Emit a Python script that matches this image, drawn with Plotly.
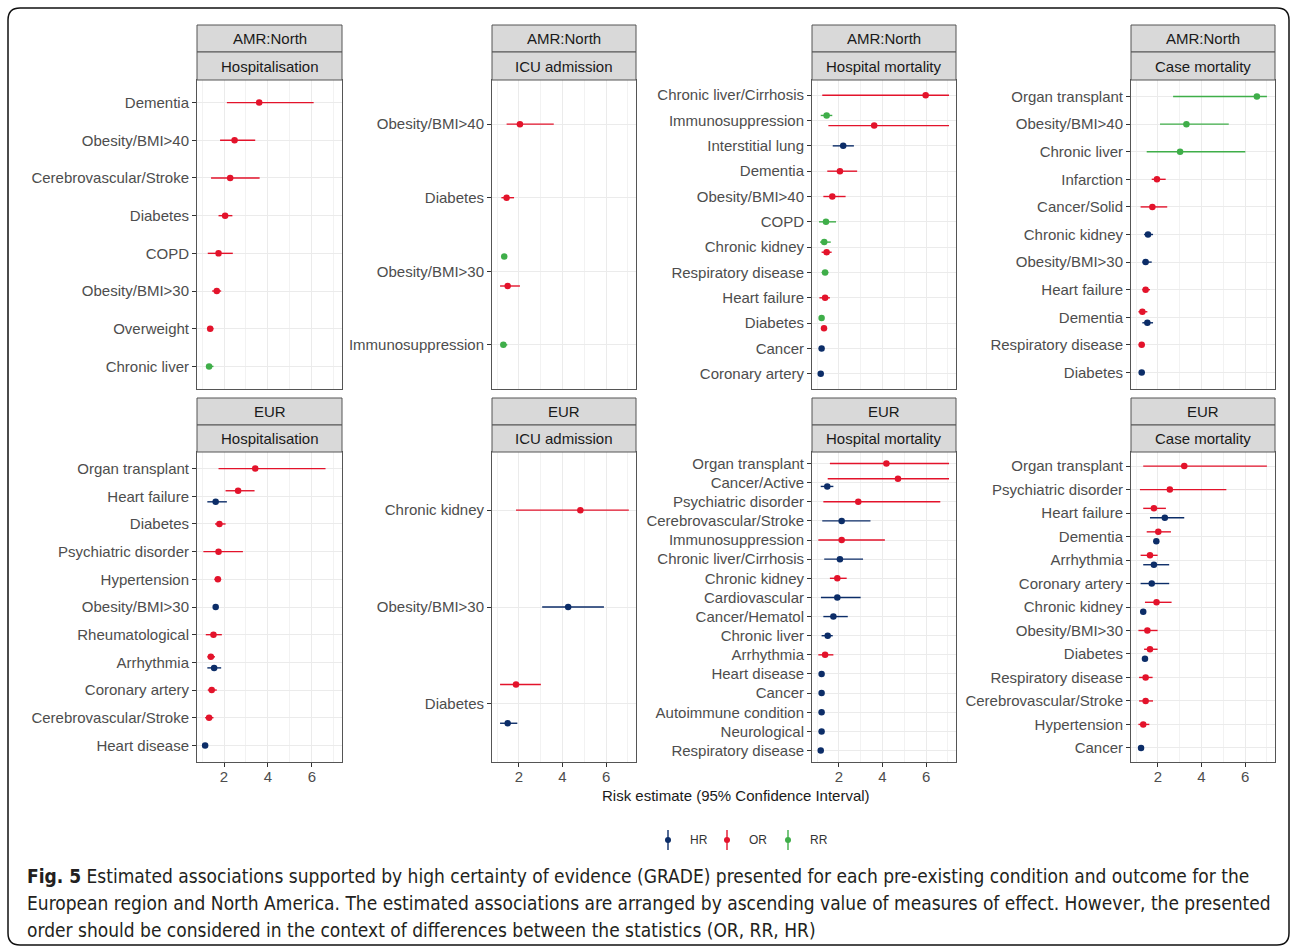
import plotly.graph_objects as go

W, H = 1290, 947

# Each row: (condition, measure, estimate, lower 95% CI, upper 95% CI); listed top to bottom
amr_hospitalisation = [
    ("Dementia", "OR", 3.60, 2.13, 6.08),
    ("Obesity/BMI>40", "OR", 2.48, 1.82, 3.42),
    ("Cerebrovascular/Stroke", "OR", 2.28, 1.41, 3.62),
    ("Diabetes", "OR", 2.05, 1.75, 2.38),
    ("COPD", "OR", 1.75, 1.26, 2.40),
    ("Obesity/BMI>30", "OR", 1.67, 1.46, 1.87),
    ("Overweight", "OR", 1.37, 1.24, 1.52),
    ("Chronic liver", "RR", 1.32, 1.21, 1.52),
]
amr_icu = [
    ("Obesity/BMI>40", "OR", 2.05, 1.44, 3.60),
    ("Diabetes", "OR", 1.44, 1.20, 1.78),
    ("Obesity/BMI>30", "RR", 1.33, 1.22, 1.44),
    ("Obesity/BMI>30", "OR", 1.49, 1.14, 2.05),
    ("Immunosuppression", "RR", 1.29, 1.17, 1.47),
]
amr_hosp_mortality = [
    ("Chronic liver/Cirrhosis", "OR", 5.98, 1.24, 7.05),
    ("Immunosuppression", "RR", 1.44, 1.17, 1.70),
    ("Immunosuppression", "OR", 3.62, 1.52, 7.05),
    ("Interstitial lung", "HR", 2.20, 1.72, 2.69),
    ("Dementia", "OR", 2.05, 1.47, 2.84),
    ("Obesity/BMI>40", "OR", 1.70, 1.29, 2.31),
    ("COPD", "RR", 1.41, 1.09, 1.87),
    ("Chronic kidney", "RR", 1.33, 1.14, 1.63),
    ("Chronic kidney", "OR", 1.44, 1.21, 1.67),
    ("Respiratory disease", "RR", 1.37, 1.21, 1.52),
    ("Heart failure", "OR", 1.37, 1.11, 1.59),
    ("Diabetes", "RR", 1.21, 1.11, 1.32),
    ("Diabetes", "OR", 1.32, 1.21, 1.44),
    ("Cancer", "HR", 1.21, 1.12, 1.30),
    ("Coronary artery", "HR", 1.17, 1.10, 1.24),
]
amr_case_mortality = [
    ("Organ transplant", "RR", 6.54, 2.70, 7.00),
    ("Obesity/BMI>40", "RR", 3.31, 2.10, 5.25),
    ("Chronic liver", "RR", 3.02, 1.49, 6.01),
    ("Infarction", "OR", 1.96, 1.72, 2.36),
    ("Cancer/Solid", "OR", 1.75, 1.21, 2.43),
    ("Chronic kidney", "HR", 1.55, 1.37, 1.78),
    ("Obesity/BMI>30", "HR", 1.44, 1.29, 1.72),
    ("Heart failure", "OR", 1.44, 1.29, 1.64),
    ("Dementia", "OR", 1.29, 1.11, 1.52),
    ("Dementia", "HR", 1.52, 1.29, 1.78),
    ("Respiratory disease", "OR", 1.26, 1.12, 1.40),
    ("Diabetes", "HR", 1.26, 1.14, 1.40),
]
eur_hospitalisation = [
    ("Organ transplant", "OR", 3.42, 1.75, 6.62),
    ("Heart failure", "OR", 2.64, 2.07, 3.39),
    ("Heart failure", "HR", 1.62, 1.24, 2.13),
    ("Diabetes", "OR", 1.79, 1.59, 2.07),
    ("Psychiatric disorder", "OR", 1.75, 1.06, 2.86),
    ("Hypertension", "OR", 1.72, 1.56, 1.87),
    ("Obesity/BMI>30", "HR", 1.62, 1.52, 1.72),
    ("Rheumatological", "OR", 1.52, 1.17, 1.90),
    ("Arrhythmia", "OR", 1.40, 1.24, 1.59),
    ("Arrhythmia", "HR", 1.55, 1.24, 1.87),
    ("Coronary artery", "OR", 1.44, 1.26, 1.67),
    ("Cerebrovascular/Stroke", "OR", 1.32, 1.14, 1.52),
    ("Heart disease", "HR", 1.14, 1.08, 1.20),
]
eur_icu = [
    ("Chronic kidney", "OR", 4.82, 1.87, 7.04),
    ("Obesity/BMI>30", "HR", 4.26, 3.07, 5.90),
    ("Diabetes", "OR", 1.87, 1.14, 3.01),
    ("Diabetes", "HR", 1.49, 1.14, 1.93),
]
eur_hosp_mortality = [
    ("Organ transplant", "OR", 4.18, 1.59, 7.05),
    ("Cancer/Active", "OR", 4.71, 1.49, 7.05),
    ("Cancer/Active", "HR", 1.47, 1.17, 1.75),
    ("Psychiatric disorder", "OR", 2.89, 1.29, 6.65),
    ("Cerebrovascular/Stroke", "HR", 2.13, 1.24, 3.45),
    ("Immunosuppression", "OR", 2.13, 1.06, 4.11),
    ("Chronic liver/Cirrhosis", "HR", 2.05, 1.33, 3.11),
    ("Chronic kidney", "OR", 1.93, 1.59, 2.36),
    ("Cardiovascular", "HR", 1.93, 1.18, 3.00),
    ("Cancer/Hematol", "HR", 1.75, 1.29, 2.41),
    ("Chronic liver", "HR", 1.49, 1.21, 1.72),
    ("Arrhythmia", "OR", 1.37, 1.06, 1.75),
    ("Heart disease", "HR", 1.21, 1.15, 1.27),
    ("Cancer", "HR", 1.21, 1.15, 1.27),
    ("Autoimmune condition", "HR", 1.21, 1.15, 1.27),
    ("Neurological", "HR", 1.21, 1.15, 1.27),
    ("Respiratory disease", "HR", 1.17, 1.12, 1.23),
]
eur_case_mortality = [
    ("Organ transplant", "OR", 3.21, 1.33, 7.00),
    ("Psychiatric disorder", "OR", 2.55, 1.18, 5.14),
    ("Heart failure", "OR", 1.82, 1.33, 2.37),
    ("Heart failure", "HR", 2.32, 1.64, 3.21),
    ("Dementia", "OR", 2.02, 1.49, 2.60),
    ("Dementia", "HR", 1.93, 1.85, 2.01),
    ("Arrhythmia", "OR", 1.64, 1.21, 1.99),
    ("Arrhythmia", "HR", 1.82, 1.33, 2.52),
    ("Coronary artery", "HR", 1.72, 1.21, 2.52),
    ("Chronic kidney", "OR", 1.94, 1.41, 2.63),
    ("Chronic kidney", "HR", 1.33, 1.27, 1.39),
    ("Obesity/BMI>30", "OR", 1.52, 1.11, 1.99),
    ("Diabetes", "OR", 1.64, 1.37, 1.99),
    ("Diabetes", "HR", 1.41, 1.30, 1.52),
    ("Respiratory disease", "OR", 1.44, 1.14, 1.76),
    ("Cerebrovascular/Stroke", "OR", 1.44, 1.14, 1.78),
    ("Hypertension", "OR", 1.33, 1.11, 1.61),
    ("Cancer", "HR", 1.23, 1.17, 1.29),
]

regions = ["AMR:North", "EUR"]
outcomes = ["Hospitalisation", "ICU admission", "Hospital mortality", "Case mortality"]
panel_data = [
    [amr_hospitalisation, amr_icu, amr_hosp_mortality, amr_case_mortality],
    [eur_hospitalisation, eur_icu, eur_hosp_mortality, eur_case_mortality],
]

measures = ["HR", "OR", "RR"]
colors = {"HR": "#0c2d68", "OR": "#e3132b", "RR": "#3fae49"}

x_ticks = [2, 4, 6]
x_minor = [1, 3, 5, 7]
x_range = [0.77, 7.37]
x_title = "Risk estimate (95% Confidence Interval)"

# panel geometry in pixels
col_x = [(197, 342), (492, 636), (812, 956), (1131, 1275)]
row_strips = [(25, 52, 80), (398, 425, 452)]
row_panel = [(80, 389), (452, 762)]

FONT = "Liberation Sans, Arial, sans-serif"
GRID = "#ebebeb"
BORDER = "#555555"
DODGE = 0.2


def px(x):
    return x / W


def py(y):
    return 1 - y / H


fig = go.Figure()
layout = {}
shapes = []
annotations = []

k = 0
for r in range(2):
    for c in range(4):
        k += 1
        rows = panel_data[r][c]
        # category order: first appearance, top to bottom
        cats = []
        for cond, *_ in rows:
            if cond not in cats:
                cats.append(cond)
        n = len(cats)
        pos = {cond: n - i for i, cond in enumerate(cats)}
        groups = {cond: sorted({m for cc, m, *_ in rows if cc == cond}, key=measures.index) for cond in cats}

        def y_of(cond, m):
            g = groups[cond]
            if len(g) == 1:
                return pos[cond]
            i = g.index(m)
            return pos[cond] + (i - (len(g) - 1) / 2) * 2 * DODGE

        xa = "x" if k == 1 else f"x{k}"
        ya = "y" if k == 1 else f"y{k}"
        for m in measures:
            sel = [row for row in rows if row[1] == m]
            if not sel:
                continue
            est = [s[2] for s in sel]
            lo = [s[3] for s in sel]
            hi = [s[4] for s in sel]
            ys = [y_of(s[0], m) for s in sel]
            fig.add_trace(go.Scatter(
                x=est, y=ys, xaxis=xa, yaxis=ya, mode="markers",
                marker=dict(color=colors[m], size=6.5),
                error_x=dict(type="data", symmetric=False,
                             array=[h - e for h, e in zip(hi, est)],
                             arrayminus=[e - l for e, l in zip(est, lo)],
                             color=colors[m], thickness=1.4, width=0),
                showlegend=False, hoverinfo="skip",
            ))

        x0, x1 = col_x[c]
        top, bottom = row_panel[r]
        bottom_row = r == 1
        layout["xaxis" if k == 1 else f"xaxis{k}"] = dict(
            domain=[px(x0), px(x1)], anchor=ya, range=x_range,
            tickvals=x_ticks, showticklabels=bottom_row,
            ticks="outside" if bottom_row else "", ticklen=4, tickcolor="#333333",
            ticklabelstandoff=-3,
            tickfont=dict(family=FONT, size=15, color="#4d4d4d"),
            showgrid=True, gridcolor=GRID, gridwidth=1.1,
            minor=dict(tickvals=x_minor, showgrid=True, gridcolor="#f2f2f2", gridwidth=0.7, ticks=""),
            showline=True, mirror=True, linecolor=BORDER, linewidth=1,
            zeroline=False, fixedrange=True,
        )
        layout["yaxis" if k == 1 else f"yaxis{k}"] = dict(
            domain=[py(bottom), py(top)], anchor=xa, range=[0.4, n + 0.6],
            tickvals=[pos[cd] for cd in cats], ticktext=cats,
            ticks="outside", ticklen=4, tickcolor="#333333",
            tickfont=dict(family=FONT, size=15, color="#4d4d4d"),
            showgrid=True, gridcolor=GRID, gridwidth=1.1,
            showline=True, mirror=True, linecolor=BORDER, linewidth=1,
            zeroline=False, fixedrange=True,
        )

        # facet strips: region on top, outcome below
        s0, s1, s2 = row_strips[r]
        for (ya0, ya1), label in (((s0, s1), regions[r]), ((s1, s2), outcomes[c])):
            shapes.append(dict(type="rect", xref="paper", yref="paper",
                               x0=px(x0), x1=px(x1), y0=py(ya1), y1=py(ya0),
                               fillcolor="#d9d9d9", line=dict(color=BORDER, width=1), layer="above"))
            annotations.append(dict(xref="paper", yref="paper", x=px((x0 + x1) / 2), y=py((ya0 + ya1) / 2),
                                    text=label, showarrow=False, xanchor="center", yanchor="middle",
                                    font=dict(family=FONT, size=15, color="#1a1a1a")))

# shared x-axis title
annotations.append(dict(xref="paper", yref="paper", x=px((col_x[0][0] + col_x[3][1]) / 2), y=py(795),
                        text=x_title, showarrow=False, xanchor="center", yanchor="middle",
                        font=dict(family=FONT, size=15, color="#1a1a1a")))

# legend: vertical point-range keys
legend_x = {"HR": 668, "OR": 727, "RR": 788}
for m in measures:
    gx = legend_x[m]
    shapes.append(dict(type="line", xref="paper", yref="paper", x0=px(gx), x1=px(gx),
                       y0=py(850), y1=py(830), line=dict(color=colors[m], width=1.4)))
    shapes.append(dict(type="circle", xref="paper", yref="paper", x0=px(gx - 3), x1=px(gx + 3),
                       y0=py(843), y1=py(837), fillcolor=colors[m], line=dict(color=colors[m], width=0)))
    annotations.append(dict(xref="paper", yref="paper", x=px(gx + 20), y=py(840), text=m,
                            showarrow=False, xanchor="left", yanchor="middle",
                            font=dict(family=FONT, size=12, color="#333333")))

# caption
CAP_FONT = "Liberation Sans Narrow, DejaVu Sans Condensed, Arial Narrow, sans-serif"
caption_lines = [
    "<b>Fig. 5</b> Estimated associations supported by high certainty of evidence (GRADE) presented for each pre-existing condition and outcome for the",
    "European region and North America. The estimated associations are arranged by ascending value of measures of effect. However, the presented",
    "order should be considered in the context of differences between the statistics (OR, RR, HR)",
]
for i, line in enumerate(caption_lines):
    annotations.append(dict(xref="paper", yref="paper", x=px(25), y=py(876 + 27 * i), text=line,
                            showarrow=False, xanchor="left", yanchor="middle",
                            font=dict(family=CAP_FONT, size=19, color="#231f20")))

# rounded outer frame
L, T, R, B, rad = px(8), py(8), px(1289), py(945), 12
rx, ry = rad / W, rad / H
frame = (f"M {L},{T - ry} Q {L},{T} {L + rx},{T} L {R - rx},{T} Q {R},{T} {R},{T - ry} "
         f"L {R},{B + ry} Q {R},{B} {R - rx},{B} L {L + rx},{B} Q {L},{B} {L},{B + ry} Z")
shapes.append(dict(type="path", xref="paper", yref="paper", path=frame,
                   line=dict(color="#111111", width=1.5)))

fig.update_layout(
    width=W, height=H, margin=dict(l=0, r=0, t=0, b=0),
    paper_bgcolor="white", plot_bgcolor="white",
    showlegend=False, shapes=shapes, annotations=annotations,
    **layout,
)

fig.write_html("out.html")
